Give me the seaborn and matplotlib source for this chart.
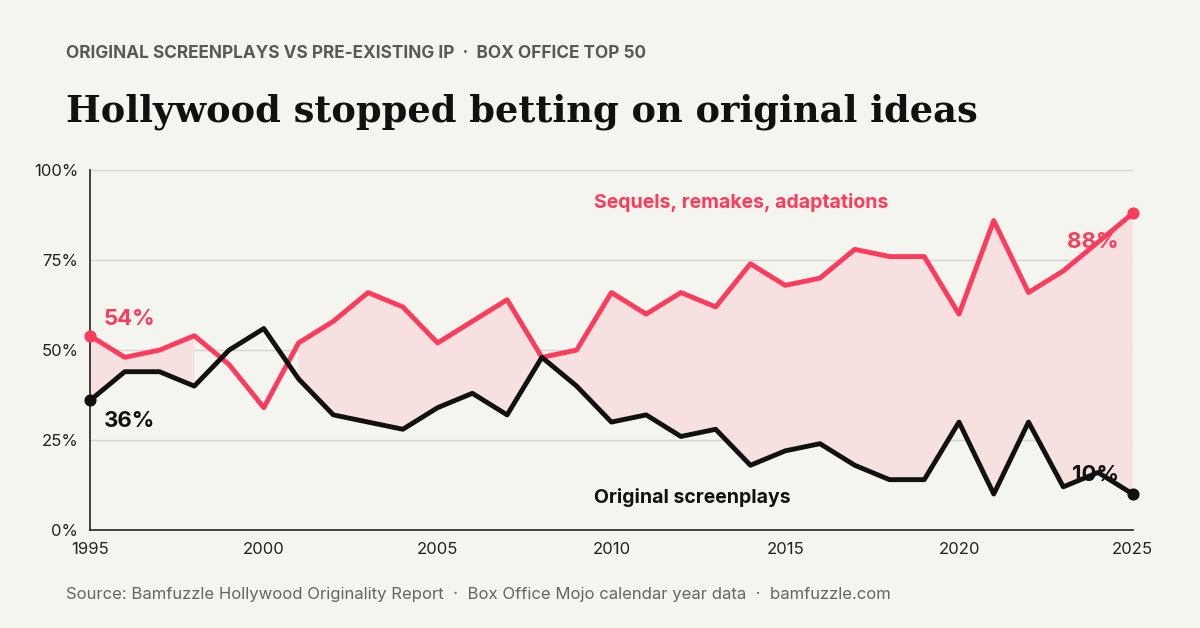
import numpy as np
import pandas as pd
import matplotlib.pyplot as plt
import seaborn as sns

years = list(range(1995, 2026))
adapted = [54, 48, 50, 54, 46, 34, 52, 58, 66, 62, 52, 58, 64, 48, 50, 66, 60, 66, 62, 74,
           68, 70, 78, 76, 76, 60, 86, 66, 72, 80, 88]
original = [36, 44, 44, 40, 50, 56, 42, 32, 30, 28, 34, 38, 32, 48, 40, 30, 32, 26, 28, 18,
            22, 24, 18, 14, 14, 30, 10, 30, 12, 16, 10]

df = pd.DataFrame({'year': years, 'adapted': adapted, 'original': original})

bg = '#f5f5f0'
red = '#ff3b5c'
black = '#111111'

sns.set_style('white')
plt.rcParams['font.family'] = ['Inter', 'DejaVu Sans']

fig = plt.figure(figsize=(12, 6.28), dpi=100, facecolor=bg)
ax = fig.add_axes([0.075, 0.156, 0.869, 0.573], facecolor=bg)

ax.fill_between(df['year'], df['original'], df['adapted'],
                where=df['adapted'] >= df['original'], color='#f7e0e0', lw=0, zorder=1)
sns.lineplot(data=df, x='year', y='adapted', color=red, lw=3.5, ax=ax, zorder=3)
sns.lineplot(data=df, x='year', y='original', color=black, lw=3.5, ax=ax, zorder=3)
ax.scatter([1995, 2025], [adapted[0], adapted[-1]], color=red, s=60, zorder=4, clip_on=False)
ax.scatter([1995, 2025], [original[0], original[-1]], color=black, s=60, zorder=4, clip_on=False)

ax.set_xlim(1995, 2025)
ax.set_ylim(0, 100)
ax.set_xticks(range(1995, 2026, 5))
ax.set_yticks([0, 25, 50, 75, 100])
ax.set_yticklabels(['0%', '25%', '50%', '75%', '100%'])
ax.grid(axis='y', color='#d5d5d0', lw=1)
ax.tick_params(labelsize=12, colors='#222222', length=5, color='#222222')
ax.set_xlabel('')
ax.set_ylabel('')
for s in ['top', 'right']:
    ax.spines[s].set_visible(False)
for s in ['left', 'bottom']:
    ax.spines[s].set_color('#222222')
    ax.spines[s].set_linewidth(1.2)

ax.text(1995.4, 57, '54%', color=red, fontsize=16, fontweight='bold')
ax.text(1995.4, 28.5, '36%', color=black, fontsize=16, fontweight='bold')
ax.text(2024.6, 78.5, '88%', color=red, fontsize=16, fontweight='bold', ha='right')
ax.text(2024.6, 13.5, '10%', color=black, fontsize=16, fontweight='bold', ha='right')
ax.text(2009.5, 89.5, 'Sequels, remakes, adaptations', color=red, fontsize=14, fontweight='bold')
ax.text(2009.5, 7.5, 'Original screenplays', color=black, fontsize=14, fontweight='bold')

fig.text(0.055, 0.915, 'ORIGINAL SCREENPLAYS VS PRE-EXISTING IP  ·  BOX OFFICE TOP 50',
         color='#5a5a55', fontsize=12.4, fontweight='bold', va='center')
fig.text(0.055, 0.822, 'Hollywood stopped betting on original ideas',
         family=['DejaVu Serif'], fontweight='bold', fontsize=26.5, color='#111111', va='center')
fig.text(0.055, 0.054,
         'Source: Bamfuzzle Hollywood Originality Report  ·  Box Office Mojo calendar year data  ·  bamfuzzle.com',
         color='#66665f', fontsize=12, va='center')

fig.savefig('out.png', dpi=100, facecolor=bg)
